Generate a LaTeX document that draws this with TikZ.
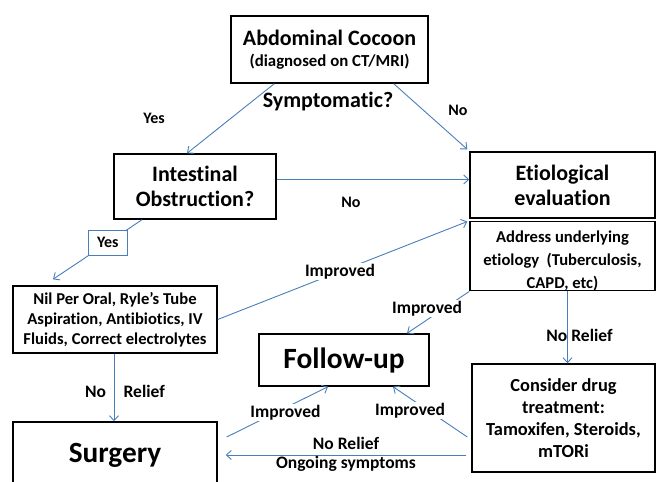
\documentclass[tikz,border=0pt]{standalone}
\usepackage{fontspec}
\setmainfont{Carlito}[Ligatures=CommonOff]
\usetikzlibrary{arrows.meta}
\definecolor{flowblue}{RGB}{74,126,187}

\begin{document}
\begin{tikzpicture}[x=1pt, y=-1pt,
		box/.style={draw, line width=1.4pt, align=center, inner sep=0pt},
		flow/.style={draw=flowblue, line width=0.9pt, -{Straight Barb[length=5pt,width=9pt]}},
		tag/.style={font=\bfseries\fontsize{17.5}{20}\selectfont, inner sep=1pt}]
	\useasboundingbox (0,0) rectangle (657,482);
	\clip (0,0) rectangle (657,482);
	% boxes
	\node[box, minimum width=197pt, minimum height=67pt, font=\bfseries\fontsize{16.8}{21}\selectfont] (cocoon) at (329.5,49.5) {{\fontsize{22}{22}\selectfont Abdominal Cocoon}\\(diagnosed on CT/MRI)};
	\node[box, minimum width=162pt, minimum height=65pt, font=\bfseries\fontsize{22}{25}\selectfont] (intest) at (195,186.5) {Intestinal\\Obstruction?};
	\node[box, minimum width=185pt, minimum height=66pt, font=\bfseries\fontsize{22}{25}\selectfont] (etio) at (562.5,185) {Etiological\\evaluation};
	\node[box, minimum width=185pt, minimum height=66pt, font=\bfseries\fontsize{16.6}{23}\selectfont] (addr) at (562.5,256) {\rule{0pt}{21pt}Address underlying\\etiology\ \ (Tuberculosis,\\CAPD, etc)};
	\node[box, minimum width=204pt, minimum height=67pt, font=\bfseries\fontsize{16.6}{20}\selectfont] (nil) at (115,319.5) {Nil Per Oral, Ryle’s Tube\\Aspiration, Antibiotics, IV\\Fluids, Correct electrolytes};
	\node[box, minimum width=170pt, minimum height=52pt, font=\bfseries\fontsize{29.4}{30}\selectfont] (follow) at (344,360) {Follow-up};
	\node[box, minimum width=183pt, minimum height=108pt, font=\bfseries\fontsize{18.4}{22}\selectfont] (drug) at (563.5,418) {Consider drug\\treatment:\\Tamoxifen, Steroids,\\mTORi};
	\node[box, minimum width=204pt, minimum height=66pt, font=\bfseries\fontsize{29.3}{30}\selectfont] (surgery) at (115,455) {Surgery};
	% free labels
	\node[font=\bfseries\fontsize{22}{24}\selectfont] (sympt) at (328,102) {Symptomatic?};
	\node[tag, font=\bfseries\fontsize{16}{18}\selectfont] (yes) at (154,118) {Yes};
	\node[tag, font=\bfseries\fontsize{16}{18}\selectfont] (no) at (458,110) {No};
	\node[tag, font=\bfseries\fontsize{16}{18}\selectfont] (nob) at (351,202) {No};
	% connectors
	\draw[flow] ([xshift=44pt]cocoon.south west) -- ([xshift=-8pt]intest.north);
	\draw[flow] ([xshift=-35pt]cocoon.south east) -- ([xshift=-2pt,yshift=2pt]etio.north west);
	\draw[flow] ([yshift=7pt]intest.east) -- ([yshift=7pt]intest.east -| etio.west);
	\draw[flow] ([xshift=-53pt]intest.south) -- node[box, line width=1.1pt, fill=white, minimum width=39pt, minimum height=25pt, font=\bfseries\fontsize{16}{18}\selectfont, pos=0.385] (yesbox) {Yes} ([xshift=-62pt,yshift=6pt]nil.north);
	\draw[flow] (nil.east) -- node[tag, fill=white, pos=0.49] (imp1) {Improved} ([xshift=-2pt,yshift=-1pt]addr.north west);
	\draw[flow] (addr.south west) -- node[tag, fill=white, pos=0.5, xshift=-11pt, yshift=4pt] (imp2) {Improved} ([xshift=63pt]follow.north);
	\draw[flow] ([xshift=5pt]addr.south) -- node[tag, pos=0.61, xshift=12pt] (rel1) {No Relief} ([xshift=5pt]addr.south |- drug.north);
	\draw[flow] ([xshift=-1pt]nil.south) -- node[tag, pos=0.56, xshift=11pt] (rel2) {No\quad Relief} ([xshift=-1pt]nil.south |- surgery.north);
	\draw[flow] ([xshift=9pt,yshift=18pt]surgery.east) -- node[tag, fill=white, pos=0.58, yshift=-5pt] (imp3) {Improved} ([xshift=-16pt]follow.south);
	\draw[flow] ([xshift=-4pt,yshift=-19pt]drug.west) -- node[tag, fill=white, pos=0.77, yshift=-12pt] (imp4) {Improved} ([xshift=49pt]follow.south);
	\coordinate (relief) at ([xshift=-5pt,yshift=-37pt]drug.west);
	\draw[flow] (relief) -- node[tag, above, yshift=4pt] (rel3) {No Relief} node[tag, below] (ongo) {Ongoing symptoms} ([xshift=8pt]relief -| surgery.east);
\end{tikzpicture}
\end{document}
